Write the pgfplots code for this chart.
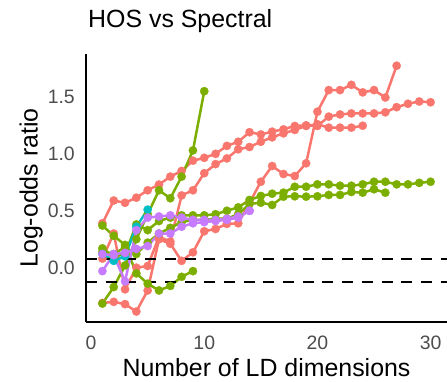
\documentclass[border=0pt]{standalone}
\usepackage{fontspec}
\setmainfont{Liberation Sans}
\usepackage{pgfplots}
\pgfplotsset{compat=1.18}
\definecolor{cR}{HTML}{F8766D}
\definecolor{cG}{HTML}{7CAE00}
\definecolor{cC}{HTML}{00BFC4}
\definecolor{cP}{HTML}{C77CFF}
\definecolor{tickgray}{HTML}{4D4D4D}
\begin{document}
\begin{tikzpicture}
\path[use as bounding box] (-86bp,-60bp) rectangle (361bp,322bp);
\begin{axis}[
  at={(0,0)}, anchor=south west,
  scale only axis, width=361bp, height=268bp,
  xmin=-0.45, xmax=31.45, ymin=-0.477, ymax=1.877,
  axis lines=left,
  axis line style={-, line width=1.6bp, black},
  major tick length=0pt,
  xtick={0,10,20,30}, ytick={0,0.5,1,1.5},
  /pgf/number format/assume math mode=true,
  yticklabel style={/pgf/number format/fixed, /pgf/number format/fixed zerofill, /pgf/number format/precision=1},
  ticklabel style={font=\fontsize{19.5}{19.5}\selectfont, text=tickgray},
  xticklabel style={anchor=north, inner sep=0pt, yshift=-14bp},
  yticklabel style={anchor=east, inner sep=0pt, xshift=-11bp},
  title={HOS vs Spectral},
  title style={at={(axis description cs:0.0055,1.0784)}, anchor=base west, inner sep=0pt, font=\fontsize{25}{25}\selectfont},
  xlabel={Number of LD dimensions},
  xlabel style={at={(axis description cs:0.5,-0.2052)}, anchor=base, inner sep=0pt, font=\fontsize{25}{25}\selectfont},
  ylabel={Log-odds ratio},
  ylabel style={at={(axis description cs:-0.1343,0.5)}, anchor=base, inner sep=0pt, font=\fontsize{25}{25}\selectfont},
  every axis plot/.append style={line width=2.5bp, mark=*, mark size=4.2bp, line join=round},
]
% red series
\addplot[cR, mark options={solid, fill=cR, draw=cR, line width=0.2bp}] coordinates {
(1,0.39)(2,0.59)(3,0.57)(4,0.615)(5,0.68)(6,0.73)(7,0.80)(8,0.85)(9,0.94)(10,0.965)
(11,1.00)(12,1.07)(13,1.106)(14,1.19)(15,1.17)(16,1.195)(17,1.215)(18,1.245)(19,1.25)(20,1.245)
(21,1.327)(22,1.346)(23,1.355)(24,1.355)(25,1.355)(26,1.365)(27,1.41)(28,1.44)(29,1.46)(30,1.453)};
\addplot[cR, mark options={solid, fill=cR, draw=cR, line width=0.2bp}] coordinates {
(1,0.08)(2,0.30)(3,-0.19)(4,0.0)(5,0.015)(6,0.27)(7,0.23)(8,0.635)(9,0.68)(10,0.83)
(11,0.91)(12,0.96)(13,1.04)(14,1.06)(15,1.106)(16,1.145)(17,1.18)(18,1.21)(19,1.245)(20,1.26)
(21,1.23)(22,1.23)(23,1.23)(24,1.247)};
\addplot[cR, mark options={solid, fill=cR, draw=cR, line width=0.2bp}] coordinates {
(1,-0.31)(2,-0.30)(3,-0.32)(4,-0.385)(5,-0.2)(6,0.25)(7,0.21)(8,0.06)(9,0.135)(10,0.32)
(11,0.34)(12,0.385)(13,0.39)(14,0.57)(15,0.755)(16,0.893)(17,0.823)(18,0.805)(19,0.917)(20,1.37)
(21,1.56)(22,1.56)(23,1.606)(24,1.54)(25,1.56)(26,1.495)(27,1.774)};
% green series
\addplot[cG, mark options={solid, fill=cG, draw=cG, line width=0.2bp}] coordinates {
(1,-0.315)(2,-0.17)(3,0.02)(4,0.25)(5,0.47)(6,0.68)(7,0.61)(8,0.80)(9,1.03)(10,1.55)};
\addplot[cG, mark options={solid, fill=cG, draw=cG, line width=0.2bp}] coordinates {
(1,0.37)(2,0.28)(3,0.20)(4,-0.05)(5,-0.14)(6,-0.2)(7,-0.16)(8,-0.08)(9,-0.03)};
\addplot[cG, mark options={solid, fill=cG, draw=cG, line width=0.2bp}] coordinates {
(1,0.17)(2,0.10)(3,0.12)(4,0.38)(5,0.33)(6,0.41)(7,0.44)(8,0.46)(9,0.46)(10,0.46)
(11,0.47)(12,0.50)(13,0.53)(14,0.595)(15,0.63)(16,0.65)(17,0.659)(18,0.711)(19,0.711)(20,0.732)
(21,0.732)(22,0.72)(23,0.72)(24,0.732)(25,0.755)(26,0.755)(27,0.732)(28,0.732)(29,0.745)(30,0.755)};
\addplot[cG, mark options={solid, fill=cG, draw=cG, line width=0.2bp}] coordinates {
(1,0.14)(2,0.12)(3,0.18)(4,0.12)(5,0.22)(6,0.30)(7,0.35)(8,0.40)(9,0.42)(10,0.42)
(11,0.43)(12,0.43)(13,0.47)(14,0.56)(15,0.571)(16,0.551)(17,0.624)(18,0.627)(19,0.624)(20,0.627)
(21,0.639)(22,0.639)(23,0.665)(24,0.659)(25,0.689)(26,0.659)};
% cyan series
\addplot[cC, mark options={solid, fill=cC, draw=cC, line width=0.2bp}] coordinates {
(1,0.12)(2,0.06)(3,0.10)(4,0.36)(5,0.51)};
% purple series
\addplot[cP, mark options={solid, fill=cP, draw=cP, line width=0.2bp}] coordinates {
(1,0.12)(2,0.11)(3,-0.12)(4,0.33)(5,0.44)(6,0.45)(7,0.46)(8,0.44)(9,0.42)(10,0.42)
(11,0.42)(12,0.43)(13,0.45)(14,0.50)};
\addplot[cP, mark options={solid, fill=cP, draw=cP, line width=0.2bp}] coordinates {
(1,-0.03)(2,0.12)(3,0.13)(4,0.165)(5,0.19)(6,0.30)(7,0.30)(8,0.36)(9,0.39)(10,0.40)
(11,0.41)(12,0.42)(13,0.44)(14,0.50)};
% dashed reference lines
\addplot[black, line width=2bp, dash pattern=on 11bp off 8.7bp, mark=none] coordinates {(-0.45,0.074)(31.45,0.074)};
\addplot[black, line width=2bp, dash pattern=on 11bp off 8.7bp, mark=none] coordinates {(-0.45,-0.123)(31.45,-0.123)};
\end{axis}
\end{tikzpicture}
\end{document}
